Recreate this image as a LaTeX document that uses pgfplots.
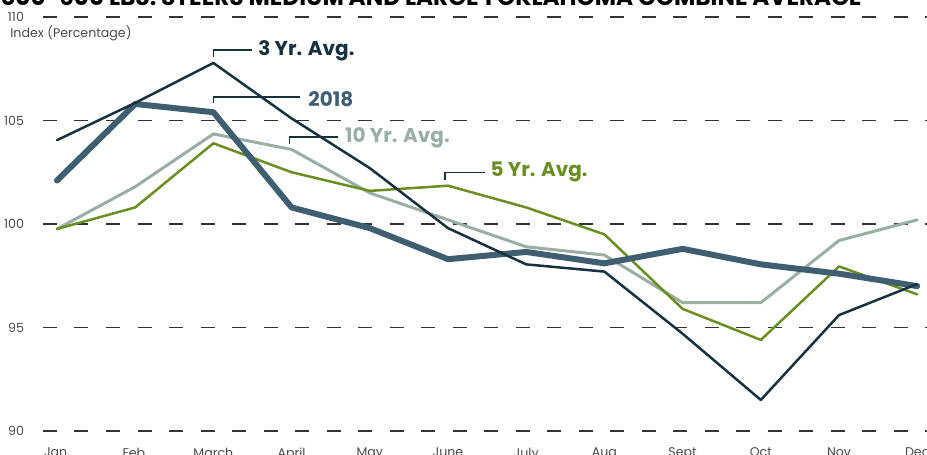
\documentclass[border=0pt]{standalone}
\usepackage{pgfplots}
\pgfplotsset{compat=1.18}
\usepackage{fontspec}
\setmainfont{Poppins}
\definecolor{navy}{HTML}{17313F}
\definecolor{slate}{HTML}{3F5F70}
\definecolor{sage}{HTML}{9AAEA3}
\definecolor{olive}{HTML}{6B8E23}
\definecolor{tickgray}{HTML}{4A4A4A}
\definecolor{gridgray}{HTML}{333333}
\begin{document}
\begin{tikzpicture}
\useasboundingbox (-20pt,-12pt) rectangle (443.5pt,215.5pt);
\clip (-20pt,-12pt) rectangle (443.5pt,215.5pt);
\node[anchor=base west, font=\fontsize{11.6}{13}\selectfont\bfseries, text=black, inner sep=0pt] at (-20pt,212.5pt) {500-600 LBS. STEERS MEDIUM AND LARGE 1 OKLAHOMA COMBINE AVERAGE};
\node[anchor=west, font=\fontsize{6.3}{7}\selectfont, text=tickgray, inner sep=0pt] at (-15pt,199pt) {Index (Percentage)};
\begin{axis}[
  at={(0,0)}, anchor=south west,
  scale only axis, width=443.5pt, height=207pt,
  xmin=-0.217, xmax=11.125, ymin=90, ymax=110,
  axis line style={draw=none},
  major tick length=0pt,
  xtick={0,...,11},
  xticklabels={Jan.,Feb.,March,April,May,June,July,Aug,Sept,Oct,Nov,Dec},
  ytick={90,95,100,105,110},
  ymajorgrids,
  major grid style={dash pattern=on 7pt off 8.75pt, dash phase=-1.5pt, color=gridgray, line width=0.9pt},
  /pgf/number format/assume math mode=true,
  tick label style={font=\fontsize{6.3}{7}\selectfont, text=tickgray},
  yticklabel style={anchor=east, xshift=-4.5pt},
  xticklabel style={anchor=north, yshift=-5pt},
  clip=false,
  every axis plot/.append style={line join=round, line cap=round},
]
\addplot[sage, line width=1.5pt] coordinates {(0,99.76) (1,101.8) (2,104.35) (3,103.6) (4,101.5) (5,100.2) (6,98.9) (7,98.5) (8,96.2) (9,96.2) (10,99.2) (11,100.2)};
\addplot[olive, line width=1.25pt] coordinates {(0,99.76) (1,100.8) (2,103.9) (3,102.5) (4,101.6) (5,101.85) (6,100.8) (7,99.5) (8,95.9) (9,94.4) (10,97.95) (11,96.6)};
\addplot[slate, line width=3pt] coordinates {(0,102.1) (1,105.8) (2,105.4) (3,100.8) (4,99.8) (5,98.3) (6,98.65) (7,98.1) (8,98.8) (9,98.05) (10,97.6) (11,97.0)};
\addplot[navy, line width=1.25pt] coordinates {(0,104.05) (1,105.85) (2,107.78) (3,105.1) (4,102.7) (5,99.8) (6,98.05) (7,97.7) (8,94.7) (9,91.5) (10,95.6) (11,97.1)};
% annotations
\draw[navy, line width=0.7pt] (axis cs:2,108.07) -- (axis cs:2,108.4) -- (axis cs:2.49,108.4);
\node[anchor=west, inner sep=0pt, text=navy, font=\fontsize{10}{12}\selectfont\bfseries] at (axis cs:2.57,108.35) {3 Yr. Avg.};
\draw[navy, line width=0.7pt] (axis cs:2,105.85) -- (axis cs:2,106.14) -- (axis cs:3.11,106.14);
\node[anchor=west, inner sep=0pt, text=slate, font=\fontsize{10}{12}\selectfont\bfseries] at (axis cs:3.21,106.04) {2018};
\draw[navy, line width=0.7pt] (axis cs:2.97,103.87) -- (axis cs:2.97,104.2) -- (axis cs:3.59,104.2);
\node[anchor=west, inner sep=0pt, text=sage, font=\fontsize{10}{12}\selectfont\bfseries] at (axis cs:3.68,104.15) {10 Yr. Avg.};
\draw[navy, line width=0.7pt] (axis cs:4.96,102.13) -- (axis cs:4.96,102.5) -- (axis cs:5.47,102.5);
\node[anchor=west, inner sep=0pt, text=olive, font=\fontsize{10}{12}\selectfont\bfseries] at (axis cs:5.54,102.5) {5 Yr. Avg.};
\end{axis}
\end{tikzpicture}
\end{document}
